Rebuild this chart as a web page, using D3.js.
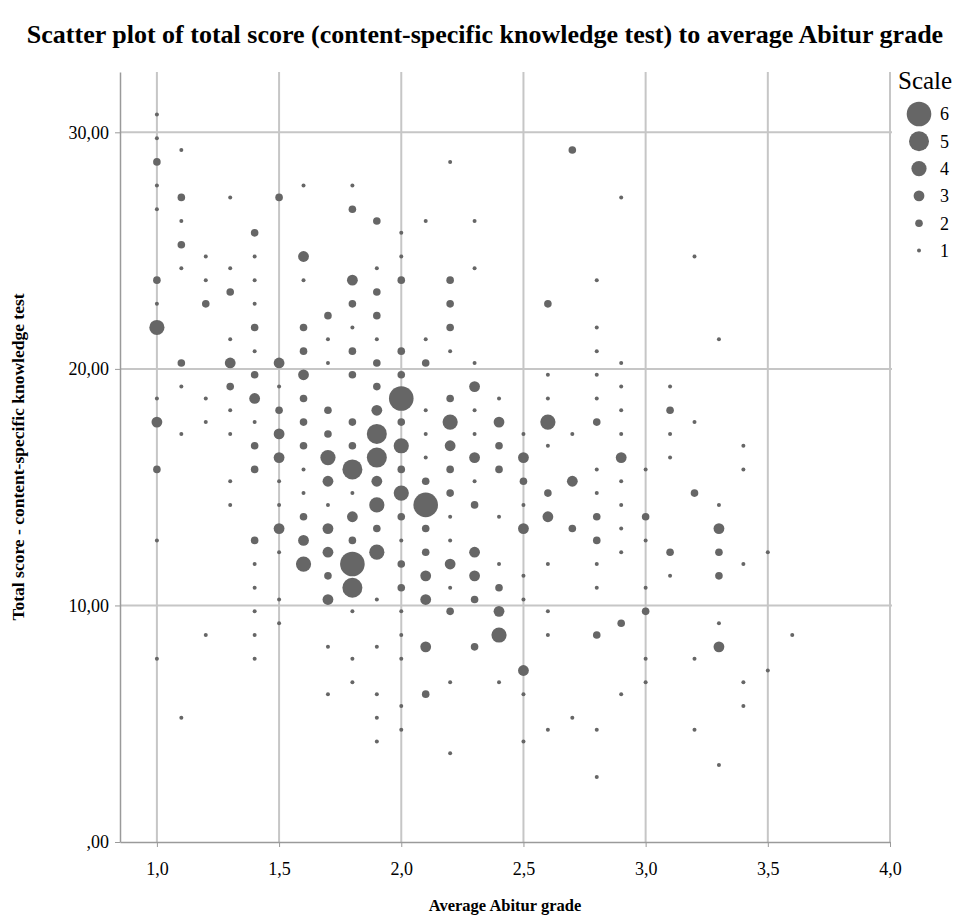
<!DOCTYPE html>
<html>
<head>
<meta charset="utf-8">
<script src="https://cdn.jsdelivr.net/npm/d3@7"></script>
<style>
  body { margin: 0; background: #fff; }
  text { font-family: "Liberation Serif", "Times New Roman", serif; fill: #000; }
</style>
</head>
<body>
<div id="chart"></div>
<script>
// [grade, score, scale]
const points = [
  [1.0,30.75,1],[1.0,29.75,1],[1.0,28.75,2],[1.0,27.75,1],[1.0,26.75,1],[1.0,23.75,2],[1.0,22.75,1],[1.0,21.75,4],[1.0,18.75,1],[1.0,17.75,3],[1.0,15.75,2],[1.0,12.75,1],[1.0,7.75,1],
  [1.1,29.25,1],[1.1,27.25,2],[1.1,26.25,1],[1.1,25.25,2],[1.1,24.25,1],[1.1,20.25,2],[1.1,19.25,1],[1.1,17.25,1],[1.1,5.25,1],
  [1.2,24.75,1],[1.2,23.75,1],[1.2,22.75,2],[1.2,18.75,1],[1.2,17.75,1],[1.2,8.75,1],
  [1.3,27.25,1],[1.3,24.25,1],[1.3,23.25,2],[1.3,21.25,1],[1.3,20.25,3],[1.3,19.25,2],[1.3,18.25,1],[1.3,17.25,1],[1.3,15.25,1],[1.3,14.25,1],
  [1.4,25.75,2],[1.4,24.75,1],[1.4,23.75,1],[1.4,22.75,1],[1.4,21.75,2],[1.4,20.75,1],[1.4,19.75,2],[1.4,18.75,3],[1.4,17.75,1],[1.4,16.75,2],[1.4,15.75,2],[1.4,12.75,2],[1.4,11.75,1],[1.4,10.75,1],[1.4,9.75,1],[1.4,8.75,1],[1.4,7.75,1],
  [1.5,27.25,2],[1.5,20.25,3],[1.5,19.25,1],[1.5,18.25,2],[1.5,17.25,3],[1.5,16.25,3],[1.5,15.25,1],[1.5,14.25,1],[1.5,13.25,3],[1.5,12.25,1],[1.5,10.25,1],[1.5,9.25,1],
  [1.6,27.75,1],[1.6,24.75,3],[1.6,23.75,1],[1.6,21.75,2],[1.6,20.75,2],[1.6,19.75,3],[1.6,18.75,2],[1.6,17.75,2],[1.6,16.75,2],[1.6,15.75,1],[1.6,14.75,1],[1.6,13.75,2],[1.6,12.75,3],[1.6,11.75,4],
  [1.7,22.25,2],[1.7,21.25,1],[1.7,20.25,1],[1.7,18.25,2],[1.7,17.25,2],[1.7,16.25,4],[1.7,15.25,3],[1.7,14.25,1],[1.7,13.25,3],[1.7,12.25,3],[1.7,11.25,2],[1.7,10.25,3],[1.7,8.25,1],[1.7,6.25,1],
  [1.8,27.75,1],[1.8,26.75,2],[1.8,23.75,3],[1.8,22.75,2],[1.8,21.75,1],[1.8,20.75,2],[1.8,19.75,2],[1.8,17.75,2],[1.8,16.75,2],[1.8,15.75,5],[1.8,14.75,1],[1.8,13.75,3],[1.8,12.75,2],[1.8,11.75,6],[1.8,10.75,5],[1.8,9.75,1],[1.8,7.75,1],[1.8,6.75,1],
  [1.9,26.25,2],[1.9,24.25,1],[1.9,23.25,2],[1.9,22.25,2],[1.9,21.25,1],[1.9,20.25,2],[1.9,19.25,2],[1.9,18.25,3],[1.9,17.25,5],[1.9,16.25,5],[1.9,15.25,3],[1.9,14.25,4],[1.9,13.25,2],[1.9,12.25,4],[1.9,10.25,1],[1.9,8.25,1],[1.9,6.25,1],[1.9,5.25,1],[1.9,4.25,1],
  [2.0,25.75,1],[2.0,24.75,1],[2.0,23.75,2],[2.0,20.75,2],[2.0,19.75,2],[2.0,18.75,6],[2.0,17.75,2],[2.0,16.75,4],[2.0,15.75,2],[2.0,14.75,4],[2.0,13.75,2],[2.0,12.75,1],[2.0,11.75,2],[2.0,10.75,2],[2.0,9.75,1],[2.0,8.75,1],[2.0,7.75,1],[2.0,5.75,1],[2.0,4.75,1],
  [2.1,26.25,1],[2.1,21.25,1],[2.1,20.25,2],[2.1,18.25,1],[2.1,17.25,1],[2.1,16.25,1],[2.1,15.25,2],[2.1,14.25,6],[2.1,13.25,2],[2.1,12.25,2],[2.1,11.25,3],[2.1,10.25,3],[2.1,8.25,3],[2.1,6.25,2],
  [2.2,28.75,1],[2.2,23.75,2],[2.2,22.75,2],[2.2,21.75,2],[2.2,20.75,1],[2.2,18.75,2],[2.2,17.75,4],[2.2,16.75,3],[2.2,15.75,2],[2.2,14.75,2],[2.2,13.75,1],[2.2,12.75,1],[2.2,11.75,3],[2.2,10.75,1],[2.2,9.75,2],[2.2,6.75,1],[2.2,3.75,1],
  [2.3,26.25,1],[2.3,24.25,1],[2.3,20.25,1],[2.3,19.25,3],[2.3,18.25,1],[2.3,17.25,1],[2.3,16.25,3],[2.3,15.25,1],[2.3,14.25,2],[2.3,12.25,3],[2.3,11.25,3],[2.3,10.25,2],[2.3,8.25,2],
  [2.4,18.75,1],[2.4,17.75,3],[2.4,16.75,2],[2.4,15.75,2],[2.4,13.75,1],[2.4,11.75,1],[2.4,10.75,2],[2.4,9.75,3],[2.4,8.75,4],[2.4,6.75,1],
  [2.5,17.25,1],[2.5,16.25,3],[2.5,15.25,2],[2.5,14.25,1],[2.5,13.25,3],[2.5,11.25,1],[2.5,10.25,1],[2.5,7.25,3],[2.5,6.25,1],[2.5,4.25,1],
  [2.6,22.75,2],[2.6,19.75,1],[2.6,18.75,1],[2.6,17.75,4],[2.6,16.75,1],[2.6,14.75,2],[2.6,13.75,3],[2.6,11.75,1],[2.6,9.75,1],[2.6,8.75,1],[2.6,4.75,1],
  [2.7,29.25,2],[2.7,17.25,1],[2.7,15.25,3],[2.7,13.25,2],[2.7,5.25,1],
  [2.8,23.75,1],[2.8,21.75,1],[2.8,20.75,1],[2.8,19.75,1],[2.8,18.75,1],[2.8,17.75,2],[2.8,15.75,1],[2.8,14.75,1],[2.8,13.75,2],[2.8,12.75,2],[2.8,11.75,1],[2.8,10.75,1],[2.8,8.75,2],[2.8,4.75,1],[2.8,2.75,1],
  [2.9,27.25,1],[2.9,20.25,1],[2.9,19.25,1],[2.9,18.25,1],[2.9,17.25,1],[2.9,16.25,3],[2.9,15.25,1],[2.9,14.25,1],[2.9,13.25,1],[2.9,12.25,1],[2.9,9.25,2],[2.9,6.25,1],
  [3.0,15.75,1],[3.0,13.75,2],[3.0,12.75,1],[3.0,10.75,1],[3.0,9.75,2],[3.0,7.75,1],[3.0,6.75,1],
  [3.1,19.25,1],[3.1,18.25,2],[3.1,17.25,1],[3.1,16.25,1],[3.1,12.25,2],[3.1,11.25,1],
  [3.2,24.75,1],[3.2,17.75,1],[3.2,14.75,2],[3.2,7.75,1],[3.2,4.75,1],
  [3.3,21.25,1],[3.3,14.25,1],[3.3,13.25,3],[3.3,12.25,2],[3.3,11.25,2],[3.3,9.25,1],[3.3,8.25,3],[3.3,3.25,1],
  [3.4,16.75,1],[3.4,15.75,1],[3.4,11.75,1],[3.4,6.75,1],[3.4,5.75,1],
  [3.5,12.25,1],[3.5,7.25,1],
  [3.6,8.75,1]
];

const xTicks = [1.0, 1.5, 2.0, 2.5, 3.0, 3.5, 4.0];
const yTicks = [0, 10, 20, 30];
const legendLevels = [6, 5, 4, 3, 2, 1];

const width = 960, height = 923;
const margin = { top: 72, right: 70, bottom: 81, left: 120 };

const svg = d3.select("#chart").append("svg")
  .attr("width", width)
  .attr("height", height);

const x = d3.scaleLinear().domain([0.849, 4.0]).range([margin.left, width - margin.right]);
const y = d3.scaleLinear().domain([0, 32.55]).range([height - margin.bottom, margin.top]);
const r = d3.scaleLinear().domain([1, 2, 3, 4, 5, 6]).range([2, 3.8, 5.4, 7.6, 10, 12.3]);
const fmtX = d => d.toFixed(1).replace(".", ",");
const fmtY = d => d === 0 ? ",00" : d.toFixed(2).replace(".", ",");

// title
svg.append("text")
  .attr("x", 485).attr("y", 43)
  .attr("text-anchor", "middle")
  .style("font-size", "26px").style("font-weight", "bold")
  .text("Scatter plot of total score (content-specific knowledge test) to average Abitur grade");

// gridlines
svg.append("g").selectAll("line").data(xTicks).join("line")
  .attr("x1", d => x(d)).attr("x2", d => x(d))
  .attr("y1", margin.top).attr("y2", height - margin.bottom)
  .attr("stroke", "#c6c6c6").attr("stroke-width", 2);
svg.append("g").selectAll("line").data(yTicks.filter(d => d > 0)).join("line")
  .attr("x1", margin.left).attr("x2", width - margin.right + 2)
  .attr("y1", d => y(d)).attr("y2", d => y(d))
  .attr("stroke", "#c6c6c6").attr("stroke-width", 2);

// axes
const xAxis = svg.append("g")
  .attr("transform", `translate(0,${height - margin.bottom})`)
  .call(d3.axisBottom(x).tickValues(xTicks).tickFormat(fmtX).tickSize(5).tickSizeOuter(0));
const yAxis = svg.append("g")
  .attr("transform", `translate(${margin.left},0)`)
  .call(d3.axisLeft(y).tickValues(yTicks).tickFormat(fmtY).tickSize(5).tickSizeOuter(0));
[xAxis, yAxis].forEach(a => {
  a.select(".domain").attr("stroke", "#9a9a9a").attr("stroke-width", 1.5);
  a.selectAll(".tick line").attr("stroke", "#9a9a9a");
  a.selectAll("text").style("font-family", "'Liberation Serif', serif").style("font-size", "18px").attr("fill", "#000");
});
xAxis.selectAll("text").attr("dy", "1.4em");
yAxis.selectAll("text").attr("x", -11);

// axis titles
svg.append("text")
  .attr("x", 505).attr("y", 911)
  .attr("text-anchor", "middle")
  .style("font-size", "16.5px").style("font-weight", "bold")
  .text("Average Abitur grade");
svg.append("text")
  .attr("transform", `translate(24,${(margin.top + height - margin.bottom) / 2 }) rotate(-90)`)
  .attr("text-anchor", "middle")
  .style("font-size", "17.5px").style("font-weight", "bold")
  .text("Total score - content-specific knowledge test");

// points
svg.append("g").selectAll("circle").data(points).join("circle")
  .attr("cx", d => x(d[0]))
  .attr("cy", d => y(d[1]))
  .attr("r", d => r(d[2]))
  .attr("fill", "#666");

// legend
const legend = svg.append("g").attr("transform", "translate(898,0)");
legend.append("text").attr("x", 0).attr("y", 89)
  .style("font-size", "25px").text("Scale");
const item = legend.selectAll("g.item").data(legendLevels).join("g")
  .attr("class", "item")
  .attr("transform", (d, i) => `translate(0,${114 + i * 27.3})`);
item.append("circle").attr("cx", 21).attr("r", d => r(d)).attr("fill", "#666");
item.append("text").attr("x", 42).attr("dy", "0.35em")
  .style("font-size", "18px").text(d => d);
</script>
</body>
</html>
